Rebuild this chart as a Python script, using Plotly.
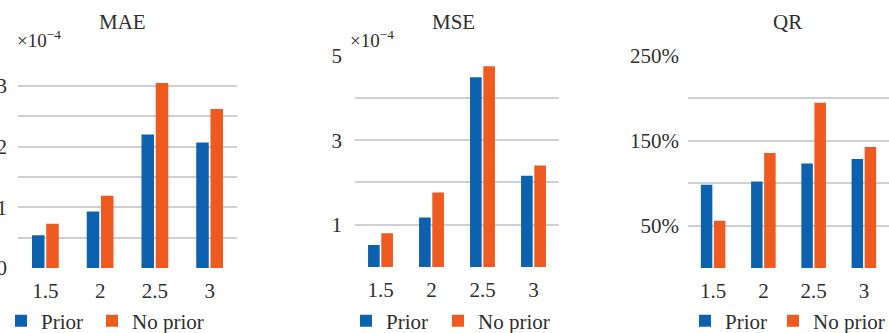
import plotly.graph_objects as go

# Noise-level categories on the x axis
categories = ["1.5", "2", "2.5", "3"]

# MAE values (×10^-4)
mae_prior = [0.54, 0.93, 2.20, 2.07]
mae_no_prior = [0.73, 1.19, 3.05, 2.62]

# MSE values (×10^-4)
mse_prior = [0.52, 1.17, 4.49, 2.16]
mse_no_prior = [0.80, 1.76, 4.75, 2.40]

# QR values (%)
qr_prior = [98, 102, 123, 128.5]
qr_no_prior = [55.5, 135.5, 194.5, 142.5]

panel_titles = ["MAE", "MSE", "QR"]
series_names = ["Prior", "No prior"]

BLUE = "#0d62b0"
ORANGE = "#ee5a20"
GRID = "#cdd1d6"
TEXT = "#2e2e2e"
FONT = "Liberation Serif"

W, H = 889, 333


def px_x(v):
    return v / W


def px_y(v):
    return 1 - v / H


fig = go.Figure()

# (values, values, x axis, y axis, legend ids, legend left edges in px)
panels = [
    (mae_prior, mae_no_prior, "x", "y", ["legend", "legend2"], [1, 92]),
    (mse_prior, mse_no_prior, "x2", "y2", ["legend3", "legend4"], [346, 438]),
    (qr_prior, qr_no_prior, "x3", "y3", ["legend5", "legend6"], [685, 773]),
]

legend_font = dict(family=FONT, size=21, color=TEXT)
legend_layout = {}

for prior, no_prior, xa, ya, lgs, lxs in panels:
    for name, vals, color, lg, lx in zip(series_names, [prior, no_prior], [BLUE, ORANGE], lgs, lxs):
        fig.add_trace(go.Bar(
            x=categories, y=vals, name=name, marker_color=color,
            marker_line_width=0, xaxis=xa, yaxis=ya, legend=lg,
        ))
        legend_layout[lg] = dict(
            orientation="h", x=px_x(lx), y=px_y(321), xanchor="left", yanchor="middle",
            font=legend_font, bgcolor="rgba(0,0,0,0)", itemclick=False,
            itemdoubleclick=False,
        )

tick_font = dict(family=FONT, size=21, color=TEXT)

xaxis_common = dict(type="category", showgrid=False, zeroline=False, showline=False,
                    ticks="", tickfont=tick_font, fixedrange=True, automargin=False,
                    ticklabelstandoff=8)
yaxis_common = dict(showgrid=True, gridcolor=GRID, gridwidth=1.5, zeroline=False,
                    showline=False, ticks="", tickfont=tick_font, fixedrange=True,
                    automargin=False)

mae_ticks = [0, 0.5, 1, 1.5, 2, 2.5, 3, 3.5]
mae_text = ["0", "", "1", "", "2", "", "3", ""]
mse_ticks = [0, 1, 2, 3, 4, 5]
mse_text = ["", "1", "", "3", "", "5"]
qr_ticks = [0, 50, 100, 150, 200, 250]
qr_text = ["", "50%", "", "150%", "", "250%"]

fig.update_layout(
    template="none",
    width=W, height=H,
    margin=dict(l=0, r=0, t=0, b=0, autoexpand=False),
    paper_bgcolor="white", plot_bgcolor="white",
    barmode="group", bargap=0.48, bargroupgap=0.12,
    font=dict(family=FONT, color=TEXT),
    showlegend=True,
    xaxis=dict(domain=[px_x(18), px_x(237)], anchor="y", **xaxis_common),
    xaxis2=dict(domain=[px_x(355), px_x(559)], anchor="y2", **xaxis_common),
    xaxis3=dict(domain=[px_x(688), 1.0], anchor="y3", **xaxis_common),
    yaxis=dict(domain=[px_y(268), px_y(55.7)], anchor="x", range=[0, 3.5],
               tickvals=mae_ticks, ticktext=mae_text, ticklabelstandoff=10, **yaxis_common),
    yaxis2=dict(domain=[px_y(267), px_y(55.7)], anchor="x2", range=[0, 5],
                tickvals=mse_ticks, ticktext=mse_text, ticklabelstandoff=12, **yaxis_common),
    yaxis3=dict(domain=[px_y(268), px_y(55.7)], anchor="x3", range=[0, 250],
                tickvals=qr_ticks, ticktext=qr_text, ticklabelstandoff=8, **yaxis_common),
    **legend_layout,
)

# Panel titles
for title, cx in zip(panel_titles, [122, 453, 787]):
    fig.add_annotation(text=title, x=px_x(cx), y=px_y(22), xref="paper", yref="paper",
                       showarrow=False, xanchor="center", yanchor="middle",
                       font=dict(family=FONT, size=21, color=TEXT))

# Scale factor labels for the two error panels
for lx in [15, 348]:
    fig.add_annotation(text="×10<sup>−4</sup>", x=px_x(lx), y=px_y(39), xref="paper", yref="paper",
                       showarrow=False, xanchor="left", yanchor="middle",
                       font=dict(family=FONT, size=19, color=TEXT))

fig.write_html("out.html")
